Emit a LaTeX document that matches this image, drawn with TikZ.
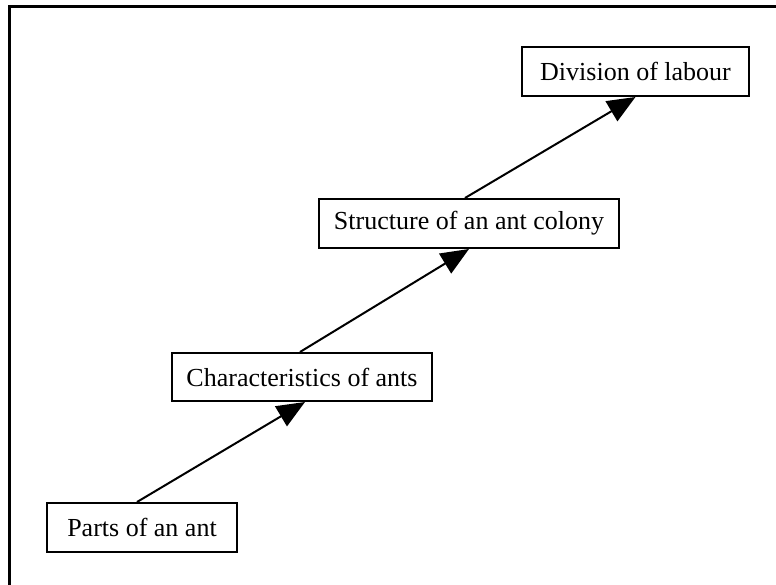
\documentclass[tikz,border=0pt]{standalone}
\usepackage{fontspec}
\setmainfont{Liberation Serif}
\usetikzlibrary{arrows.meta}
\begin{document}
\begin{tikzpicture}[x=1pt,y=1pt,
  topic/.style={draw=black, line width=2pt, fill=white, inner sep=0pt, font=\fontsize{26}{30}\selectfont},
  link/.style={line width=2pt, -{Triangle[length=28pt,width=23pt]}}]
\useasboundingbox (0,0) rectangle (776,-585);
\begin{scope}
\clip (0,0) rectangle (776,-585);
\draw[line width=3pt] (9.5,-7) rectangle (800,-610);
\end{scope}
\node[topic, minimum width=190pt, minimum height=49pt] (parts) at (142,-527.5) {Parts of an ant};
\node[topic, minimum width=260pt, minimum height=48pt] (chars) at (302,-377) {Characteristics of ants};
\node[topic, minimum width=300pt, minimum height=49pt] (struct) at (469,-223.5) {Structure of an ant colony};
\node[topic, minimum width=227pt, minimum height=49pt] (div) at (635.5,-71.5) {Division of labour};
\draw[link] ([xshift=-5pt]parts.north) -- ([xshift=3pt]chars.south);
\draw[link] ([xshift=-2pt]chars.north) -- (struct.south);
\draw[link] ([xshift=-4pt]struct.north) -- (div.south);
\end{tikzpicture}
\end{document}
